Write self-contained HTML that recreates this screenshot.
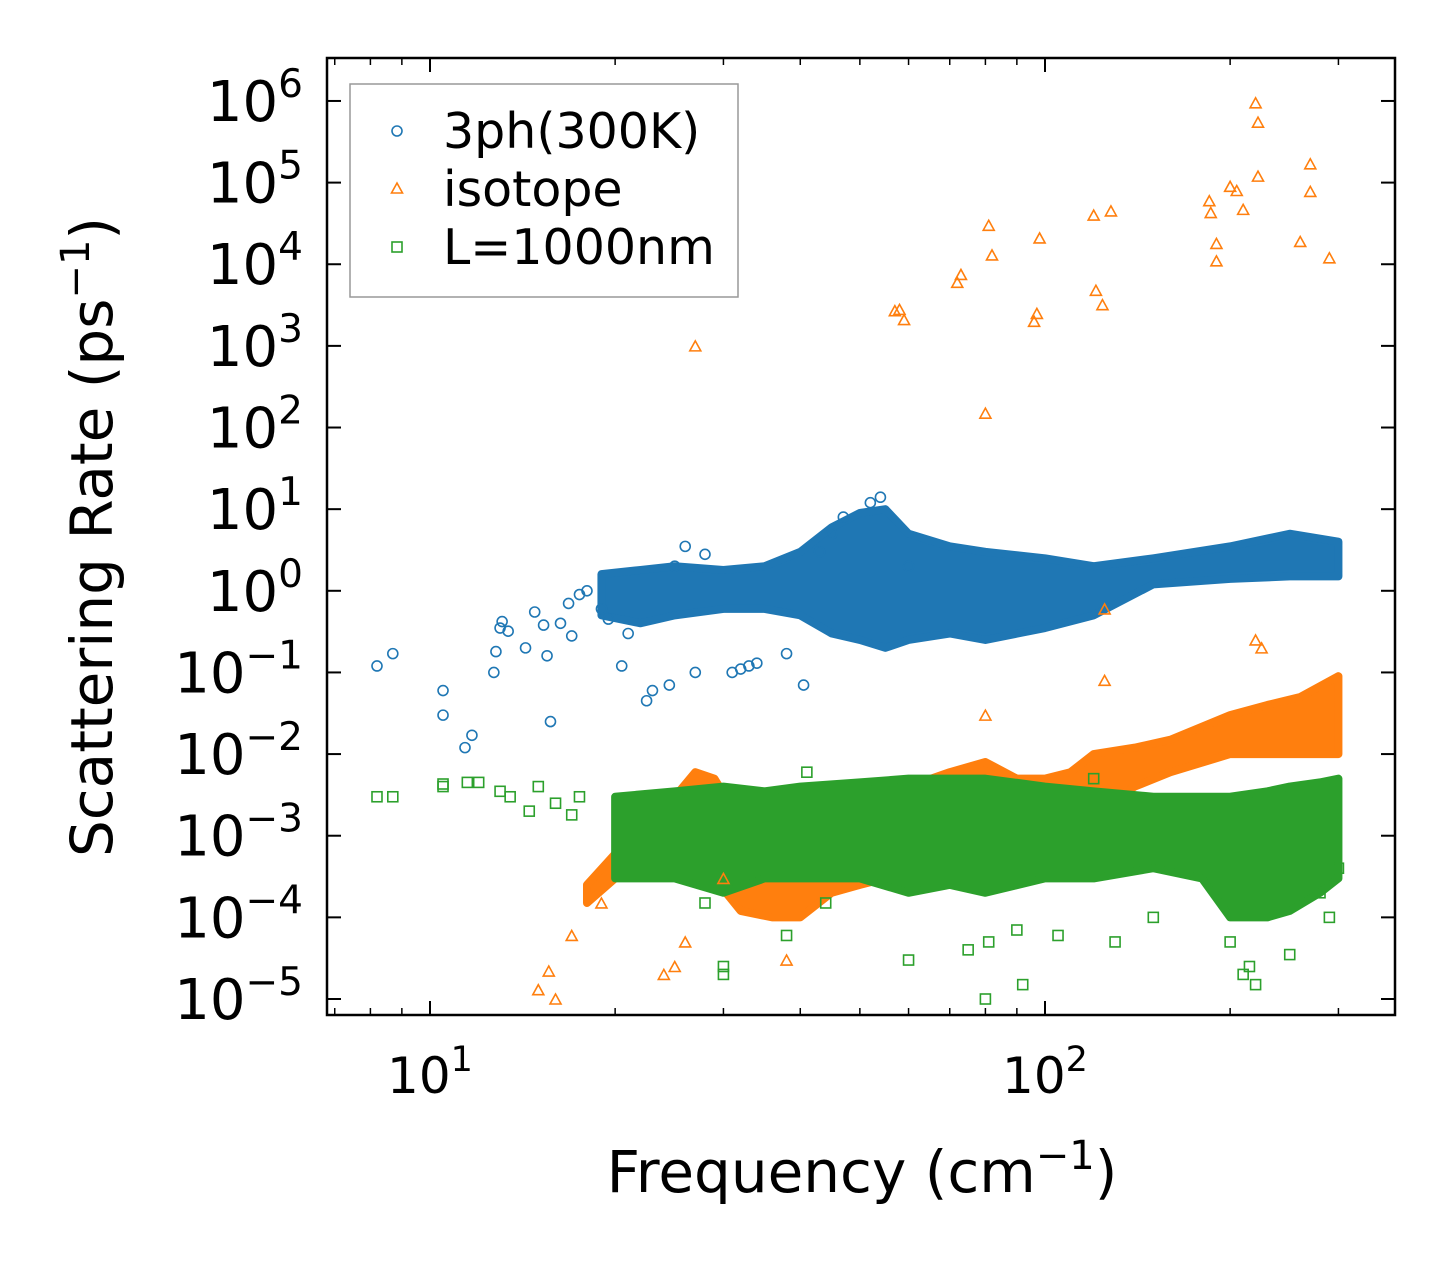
<!DOCTYPE html>
<html><head><meta charset="utf-8">
<style>
html,body{margin:0;padding:0;background:#fff;}
svg{display:block;font-family:"DejaVu Sans","Liberation Sans",sans-serif;}
</style></head>
<body>
<svg id="chart" width="1455" height="1265" viewBox="0 0 1455 1265" xmlns="http://www.w3.org/2000/svg">
<rect width="1455" height="1265" fill="#fff"/>
<g id="dense"></g>
<g id="marks"></g>
<g id="axes"></g>
<text x="862" y="1192" font-size="58" text-anchor="middle">Frequency (cm<tspan dy="-23" font-size="40">−1</tspan><tspan dy="23">)</tspan></text>
<text transform="translate(112,537) rotate(-90)" font-size="58" text-anchor="middle">Scattering Rate (ps<tspan dy="-23" font-size="40">−1</tspan><tspan dy="23">)</tspan></text>
<g>
<rect x="350" y="84" width="388" height="213" fill="#fff" stroke="#999" stroke-width="1.5"/>
<circle cx="397" cy="131" r="5" fill="none" stroke="#1f77b4" stroke-width="1.6"/>
<text x="443" y="148" font-size="49">3ph(300K)</text>
<polygon points="397,183 402.5,193 391.5,193" fill="none" stroke="#ff7f0e" stroke-width="1.6"/>
<text x="443" y="206" font-size="49">isotope</text>
<rect x="392" y="242" width="10" height="10" fill="none" stroke="#2ca02c" stroke-width="1.6"/>
<text x="443" y="264" font-size="49">L=1000nm</text>
</g>
</svg>
<script>
// ---- data ----
const xTickValues=[10,100];
const yTickExponents=[-5,-4,-3,-2,-1,0,1,2,3,4,5,6];
// dense-band envelopes: frequency, lower rate, upper rate
const blueBandFreq=[19,22,25,30,35,40,45,50,55,60,70,80,100,120,150,200,250,300];
const blueBandLo=[0.5,0.4,0.5,0.6,0.6,0.5,0.3,0.25,0.2,0.25,0.3,0.25,0.35,0.5,1.2,1.4,1.5,1.5];
const blueBandHi=[1.6,1.8,2,1.8,2,3,6,9,10,5,3.5,3,2.5,2,2.5,3.5,5,4];
const orangeBandFreq=[18,20,22,25,27,29,32,36,40,45,50,55,60,70,80,90,100,110,120,140,160,200,230,260,300];
const orangeBandLo=[1.5e-4,3e-4,5e-4,6e-4,6e-4,3e-4,1.2e-4,1e-4,1e-4,2e-4,2.5e-4,3e-4,5e-4,8e-4,1e-3,1e-3,1e-3,1.5e-3,2e-3,4e-3,6e-3,1e-2,1e-2,1e-2,1e-2];
const orangeBandHi=[2.5e-4,6e-4,1.5e-3,3e-3,6e-3,5e-3,1.5e-3,8e-4,6e-4,1e-3,1.5e-3,2e-3,4e-3,6e-3,8e-3,5e-3,5e-3,6e-3,1e-2,1.2e-2,1.5e-2,3e-2,4e-2,5e-2,9e-2];
const greenBandFreq=[20,25,30,35,40,50,60,70,80,100,120,150,180,200,230,250,280,300];
const greenBandLo=[3e-4,3e-4,2e-4,3e-4,3e-4,3e-4,2e-4,2.5e-4,2e-4,3e-4,3e-4,4e-4,3e-4,1e-4,1e-4,1.2e-4,2e-4,3e-4];
const greenBandHi=[3e-3,3.5e-3,4e-3,3.5e-3,4e-3,4.5e-3,5e-3,5e-3,5e-3,4e-3,3.5e-3,3e-3,3e-3,3e-3,3.5e-3,4e-3,4.5e-3,5e-3];
// sparse points
const blueFreq=[8.2,8.7,10.5,10.5,11.4,11.7,12.7,12.8,13,13.1,13.4,14.3,14.8,15.3,15.5,15.7,16.3,16.8,17,17.5,18,19,19.5,20.5,21,22.5,23,24.5,25,26,27,28,31,32,33,34,38,40.5,47,52,54,45,43,60];
const blueRate=[0.12,0.17,0.06,0.03,0.012,0.017,0.1,0.18,0.35,0.42,0.32,0.2,0.55,0.38,0.16,0.025,0.4,0.7,0.28,0.9,1.0,0.6,0.45,0.12,0.3,0.045,0.06,0.07,2,3.5,0.1,2.8,0.1,0.11,0.12,0.13,0.17,0.07,8,12,14,5,3,2];
const orangeFreq=[27,57,58,59,72,73,80,81,82,96,97,98,120,121,124,128,185,186,190,190,200,205,210,220,222,222,260,270,270,290,125,80,125,220,225,15,15.6,16,25,24,26,30,38,17,19];
const orangeRate=[1000,2700,2800,2100,6000,7500,150,30000,13000,2000,2500,21000,40000,4800,3200,45000,60000,43000,18000,11000,90000,80000,47000,950000,550000,120000,19000,170000,78000,12000,0.08,0.03,0.6,0.25,0.2,1.3e-5,2.2e-5,1e-5,2.5e-5,2e-5,5e-5,3e-4,3e-5,6e-5,1.5e-4];
const greenFreq=[8.2,8.7,10.5,10.5,11.5,12,13,13.5,14.5,15,16,17,17.5,30,30,33,38,41,60,75,80,81,90,92,105,120,130,150,200,210,215,220,250,280,290,300,28,44];
const greenRate=[3e-3,3e-3,4e-3,4.3e-3,4.5e-3,4.5e-3,3.5e-3,3e-3,2e-3,4e-3,2.5e-3,1.8e-3,3e-3,2.5e-5,2e-5,3e-4,6e-5,6e-3,3e-5,4e-5,1e-5,5e-5,7e-5,1.5e-5,6e-5,5e-3,5e-5,1e-4,5e-5,2e-5,2.5e-5,1.5e-5,3.5e-5,2e-4,1e-4,4e-4,1.5e-4,1.5e-4];

// ---- axes functions ----
const L=327,R=1395,T=58,B=1015;
const x=v=>430+(Math.log10(v)-1)*615;
const y=v=>999-(Math.log10(v)+5)*81.64;
const NS='http://www.w3.org/2000/svg';
function mk(tag,attrs,parent){const e=document.createElementNS(NS,tag);for(const k in attrs)e.setAttribute(k,attrs[k]);parent.appendChild(e);return e;}
const dense=document.getElementById('dense'),marks=document.getElementById('marks'),axes=document.getElementById('axes');

function band(fr,lo,hi,color,name){
  let pts=[];
  for(let i=0;i<fr.length;i++)pts.push(x(fr[i])+','+y(hi[i]));
  for(let i=fr.length-1;i>=0;i--)pts.push(x(fr[i])+','+y(lo[i]));
  const p=mk('polygon',{points:pts.join(' '),fill:color,stroke:color,'stroke-width':'8','stroke-linejoin':'round'},dense);
  
  
}
band(orangeBandFreq,orangeBandLo,orangeBandHi,'#ff7f0e','isotope-dense-band');
band(greenBandFreq,greenBandLo,greenBandHi,'#2ca02c','boundary-dense-band');
band(blueBandFreq,blueBandLo,blueBandHi,'#1f77b4','3ph-dense-band');

for(let i=0;i<orangeFreq.length;i++){
  const cx=x(orangeFreq[i]),cy=y(orangeRate[i]);
  const m=mk('polygon',{points:`${cx},${cy-5} ${cx+5.5},${cy+5} ${cx-5.5},${cy+5}`,fill:'none',stroke:'#ff7f0e','stroke-width':'1.6'},marks);
  
  
}
for(let i=0;i<greenFreq.length;i++){
  const m=mk('rect',{x:x(greenFreq[i])-5,y:y(greenRate[i])-5,width:10,height:10,fill:'none',stroke:'#2ca02c','stroke-width':'1.6'},marks);
  
  
}
for(let i=0;i<blueFreq.length;i++){
  const m=mk('circle',{cx:x(blueFreq[i]),cy:y(blueRate[i]),r:5,fill:'none',stroke:'#1f77b4','stroke-width':'1.6'},marks);
  
  
}

// frame
const fr=mk('rect',{x:L,y:T,width:R-L,height:B-T,fill:'none',stroke:'#000','stroke-width':'2.5'},axes);


for(let d=0;d<=2;d++){for(let k=1;k<=9;k++){
  const v=k*Math.pow(10,d);const px=x(v);if(px<L||px>R)continue;
  const len=k===1?14:7;
  mk('line',{x1:px,y1:B,x2:px,y2:B-len,stroke:'#000','stroke-width':k===1?2:1.5},axes);
  mk('line',{x1:px,y1:T,x2:px,y2:T+len,stroke:'#000','stroke-width':k===1?2:1.5},axes);
}}
xTickValues.forEach(v=>{
  const t=mk('text',{x:x(v),y:1093,'font-size':'50','text-anchor':'middle'},axes);
  
  
  t.innerHTML='10<tspan dy="-22" font-size="35">'+Math.log10(v)+'</tspan>';
});
yTickExponents.forEach(e=>{
  const py=y(Math.pow(10,e));
  mk('line',{x1:L,y1:py,x2:L+14,y2:py,stroke:'#000','stroke-width':2},axes);
  mk('line',{x1:R,y1:py,x2:R-14,y2:py,stroke:'#000','stroke-width':2},axes);
  const t=mk('text',{x:303,y:py+20,'font-size':'56','text-anchor':'end'},axes);
  
  
  const ex=e<0?'−'+(-e):''+e;
  t.innerHTML='10<tspan dy="-24" font-size="39">'+ex+'</tspan>';
});
</script>
</body></html>
